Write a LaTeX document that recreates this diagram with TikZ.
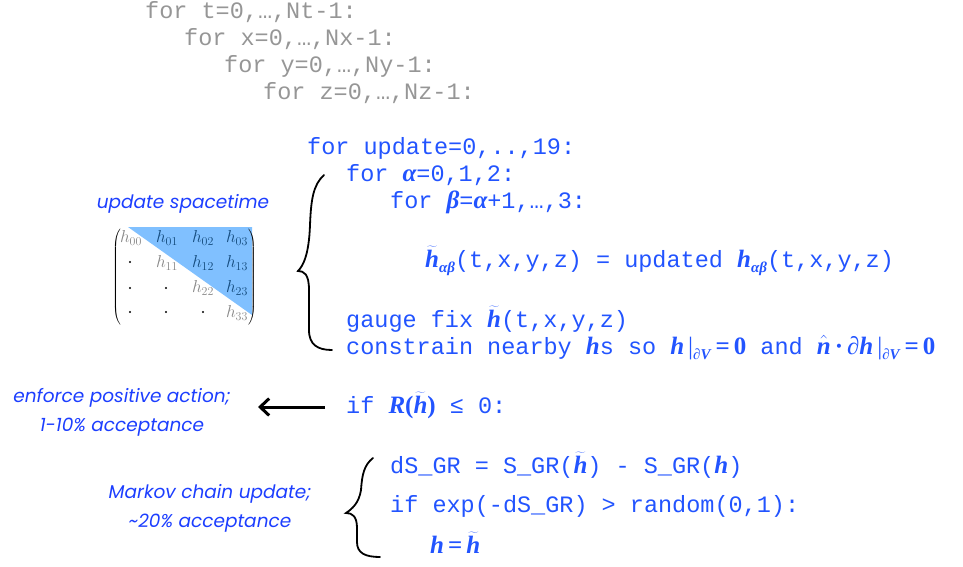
\documentclass[tikz,border=0pt]{standalone}
\usepackage{fontspec}
\setmainfont{Liberation Serif}
\setmonofont{Liberation Mono}
\newfontfamily\tms{Liberation Serif}
\newfontfamily\labfont{Poppins}
\usetikzlibrary{arrows.meta}
\definecolor{codegray}{RGB}{150,150,150}
\definecolor{codeblue}{RGB}{34,84,255}
\definecolor{labblue}{RGB}{28,62,255}
\definecolor{tri}{RGB}{128,192,255}
\definecolor{entry}{RGB}{20,75,125}
\definecolor{diag}{RGB}{135,135,135}
\newcommand\BI[1]{{\tms\fontsize{25}{28}\selectfont\bfseries\itshape #1}}
\newcommand\BU[1]{{\tms\fontsize{25}{28}\selectfont\bfseries #1}}
\newcommand\Sub[1]{\raisebox{-0.45ex}{\tms\fontsize{15}{15}\selectfont\bfseries\itshape #1}}
\newcommand\htil{\ensuremath{\widetilde{\hbox{\BI{h}}}}}
\newcommand\nhat{\ensuremath{\hat{\hbox{\BI{n}}}}}
\newcommand\eqz{\hspace{5pt}\BU{=}\hspace{4pt}\BU{0}}
\begin{document}
\begin{tikzpicture}[x=1pt,y=-1pt,
  gcode/.style={anchor=base west,inner sep=0pt,text=codegray,font=\ttfamily\fontsize{23.5}{28}\selectfont},
  bcode/.style={anchor=base west,inner sep=0pt,text=codeblue,font=\ttfamily\fontsize{23.5}{28}\selectfont},
  lab/.style={text=labblue,inner sep=0pt,align=center,font=\labfont\itshape\fontsize{18.5}{29}\selectfont},
  ent/.style={inner sep=0pt,text=entry,font=\fontsize{18.5}{20}\selectfont},
  dent/.style={inner sep=0pt,text=diag,font=\fontsize{18.5}{20}\selectfont},
  bracepath/.style={draw=black,line width=1.8pt,line cap=round},
  arr/.style={draw=black,line width=3pt,-{Straight Barb[length=9pt,width=17pt,line width=3pt]}}
]
\useasboundingbox (0,0) rectangle (963,567);

% gray loops
\node[gcode] (g1) at (145,18.5) {for t=0,…,Nt-1:};
\node[gcode] (g2) at (184,45.5) {for x=0,…,Nx-1:};
\node[gcode] (g3) at (224,72.5) {for y=0,…,Ny-1:};
\node[gcode] (g4) at (263,99.5) {for z=0,…,Nz-1:};

% blue code
\node[bcode] (b1) at (307,154) {for update=0,..,19:};
\node[bcode] (b2) at (346,181) {for \BI{α}=0,1,2:};
\node[bcode] (b3) at (390,208) {for \BI{β}=\BI{α}+1,…,3:};
\node[bcode] (b4) at (425,267) {\htil\Sub{αβ}(t,x,y,z) = updated \BI{h}\Sub{αβ}(t,x,y,z)};
\node[bcode] (b5) at (346,327) {gauge fix \htil(t,x,y,z)};
\node[bcode] (b6) at (346,354) {constrain nearby \BI{h}s so \BI{h}\,{\tms\fontsize{25}{28}\selectfont|}\Sub{∂V}\eqz{} and \nhat\hspace{4pt}{\tms\fontsize{25}{28}\selectfont\bfseries·}\hspace{4pt}\BI{∂h}\,{\tms\fontsize{25}{28}\selectfont|}\Sub{∂V}\eqz};
\node[bcode] (b7) at (346,413) {if \BI{R}\BU{(}\htil\BU{)} ≤ 0:};
\node[bcode] (b8) at (390,473) {dS\_GR = S\_GR(\htil) - S\_GR(\BI{h})};
\node[bcode] (b9) at (390,512) {if exp(-dS\_GR) > random(0,1):};
\node[bcode] (b10) at (430,553) {\BI{h}\hspace{4pt}\BU{=}\hspace{4pt}\htil};

% labels
\node[lab,anchor=base] (lupd) at (183,208) {update spacetime};
\node[lab] (lenf) at (122,412) {enforce positive action;\\1-10\% acceptance};
\node[lab] (lmk) at (210,508) {Markov chain update;\\\textasciitilde20\% acceptance};

% matrix
\fill[tri] (128,227) -- (252,227) -- (252,315) -- cycle;
\node[inner sep=0pt] (lp) at (117,277) {\fontsize{17}{20}\selectfont$\left(\vcenter{\hbox{\rule{0pt}{98pt}}}\right.$};
\node[inner sep=0pt] (rp) at (252,277) {\fontsize{17}{20}\selectfont$\left.\vcenter{\hbox{\rule{0pt}{98pt}}}\right)$};
\node[dent] (h00) at (131,238) {$h_{00}$};
\node[ent] (h01) at (167,238) {$h_{01}$};
\node[ent] (h02) at (203,238) {$h_{02}$};
\node[ent] (h03) at (237,238) {$h_{03}$};
\node[dent] (h11) at (167,263) {$h_{11}$};
\node[ent] (h12) at (203,263) {$h_{12}$};
\node[ent] (h13) at (237,263) {$h_{13}$};
\node[dent] (h22) at (203,288) {$h_{22}$};
\node[ent] (h23) at (237,288) {$h_{23}$};
\node[dent] (h33) at (237,313) {$h_{33}$};
\foreach \px/\py in {130/262,130/288,166/288,130/312,166/312,203/312}
  \fill[black] (\px,\py) circle (1.2);

% arrow
\coordinate (a1) at (325,407);
\coordinate (a2) at (258,407);
\draw[arr] (a1) -- (a2);

% braces
\draw[bracepath] (324,175) .. controls (313,185) and (311,200) .. (310,225)
  .. controls (309,255) and (303,266) .. (298,271)
  .. controls (304,271) and (309,274) .. (309,290) -- (309,330)
  .. controls (309,345) and (318,350) .. (332,350);
\draw[bracepath] (373,458) .. controls (364,465) and (362,475) .. (361,490)
  .. controls (359,503) and (352,509) .. (346,513)
  .. controls (352,513) and (357,516) .. (357,528) -- (357,542)
  .. controls (357,553) and (365,557) .. (380,557);
\end{tikzpicture}
\end{document}
